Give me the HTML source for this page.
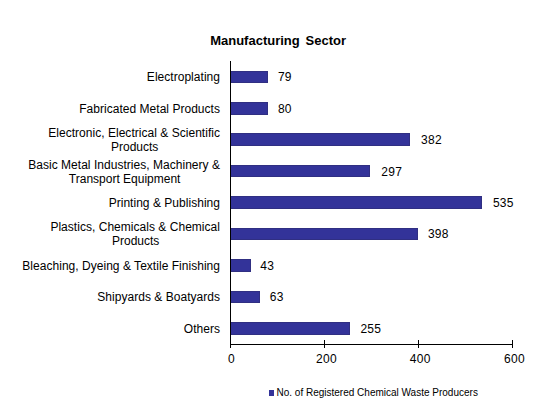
<!DOCTYPE html>
<html><head><meta charset="utf-8"><style>
html,body{margin:0;padding:0;background:#fff;}
svg{display:block;}
.t{font-family:"Liberation Sans",sans-serif;font-size:12px;fill:#000;}
.d{letter-spacing:0.3px;}
.c{letter-spacing:0.03px;}
</style></head><body>
<svg width="554" height="412" viewBox="0 0 554 412">
<rect width="554" height="412" fill="#fff"/>
<text x="278.1" y="45" text-anchor="middle" style="font-family:'Liberation Sans',sans-serif;font-size:13px;font-weight:bold;word-spacing:2.2px" fill="#000">Manufacturing Sector</text>
<rect x="230.5" y="71.5" width="37" height="11" fill="#333399" stroke="#302f82" stroke-width="1"/>
<text x="277.90" y="81" class="t d">79</text>
<text x="220" y="81" class="t c" text-anchor="end">Electroplating</text>
<rect x="230.5" y="102.5" width="37" height="12" fill="#333399" stroke="#302f82" stroke-width="1"/>
<text x="277.90" y="113" class="t d">80</text>
<text x="220" y="113" class="t c" text-anchor="end">Fabricated Metal Products</text>
<rect x="230.5" y="133.5" width="179" height="12" fill="#333399" stroke="#302f82" stroke-width="1"/>
<text x="421.10" y="144" class="t d">382</text>
<text x="220" y="137" class="t c" text-anchor="end">Electronic, Electrical &amp; Scientific</text>
<text x="134.65" y="151" class="t" text-anchor="middle">Products</text>
<rect x="230.5" y="165.5" width="139" height="11" fill="#333399" stroke="#302f82" stroke-width="1"/>
<text x="381.20" y="176" class="t d">297</text>
<text x="220" y="169" class="t c" text-anchor="end">Basic Metal Industries, Machinery &amp;</text>
<text x="124.65" y="183" class="t" text-anchor="middle">Transport Equipment</text>
<rect x="230.5" y="196.5" width="251" height="12" fill="#333399" stroke="#302f82" stroke-width="1"/>
<text x="492.90" y="207" class="t d">535</text>
<text x="220" y="207" class="t c" text-anchor="end">Printing &amp; Publishing</text>
<rect x="230.5" y="228.5" width="187" height="11" fill="#333399" stroke="#302f82" stroke-width="1"/>
<text x="427.90" y="238" class="t d">398</text>
<text x="220" y="231" class="t c" text-anchor="end">Plastics, Chemicals &amp; Chemical</text>
<text x="135.64" y="245" class="t" text-anchor="middle">Products</text>
<rect x="230.5" y="259.5" width="20" height="12" fill="#333399" stroke="#302f82" stroke-width="1"/>
<text x="260.20" y="270" class="t d">43</text>
<text x="220" y="270" class="t c" text-anchor="end">Bleaching, Dyeing &amp; Textile Finishing</text>
<rect x="230.5" y="291.5" width="29" height="11" fill="#333399" stroke="#302f82" stroke-width="1"/>
<text x="269.70" y="301" class="t d">63</text>
<text x="220" y="301" class="t c" text-anchor="end">Shipyards &amp; Boatyards</text>
<rect x="230.5" y="322.5" width="119" height="12" fill="#333399" stroke="#302f82" stroke-width="1"/>
<text x="360.40" y="333" class="t d">255</text>
<text x="220" y="333" class="t c" text-anchor="end">Others</text>
<line x1="230.5" y1="61" x2="230.5" y2="348" stroke="#000" stroke-width="1"/>
<line x1="230" y1="344.5" x2="513" y2="344.5" stroke="#000" stroke-width="1"/>
<text x="231.50" y="363" class="t d" text-anchor="middle">0</text>
<line x1="324.5" y1="340" x2="324.5" y2="348" stroke="#000" stroke-width="1"/>
<text x="326.55" y="363" class="t d" text-anchor="middle">200</text>
<line x1="418.5" y1="340" x2="418.5" y2="348" stroke="#000" stroke-width="1"/>
<text x="420.30" y="363" class="t d" text-anchor="middle">400</text>
<line x1="512.5" y1="340" x2="512.5" y2="348" stroke="#000" stroke-width="1"/>
<text x="514.40" y="363" class="t d" text-anchor="middle">600</text>
<rect x="269" y="390" width="5" height="6" fill="#333399"/>
<text x="276.5" y="396.2" style="font-family:'Liberation Sans',sans-serif;font-size:10px" fill="#000">No. of Registered Chemical Waste Producers</text>
</svg>
</body></html>
